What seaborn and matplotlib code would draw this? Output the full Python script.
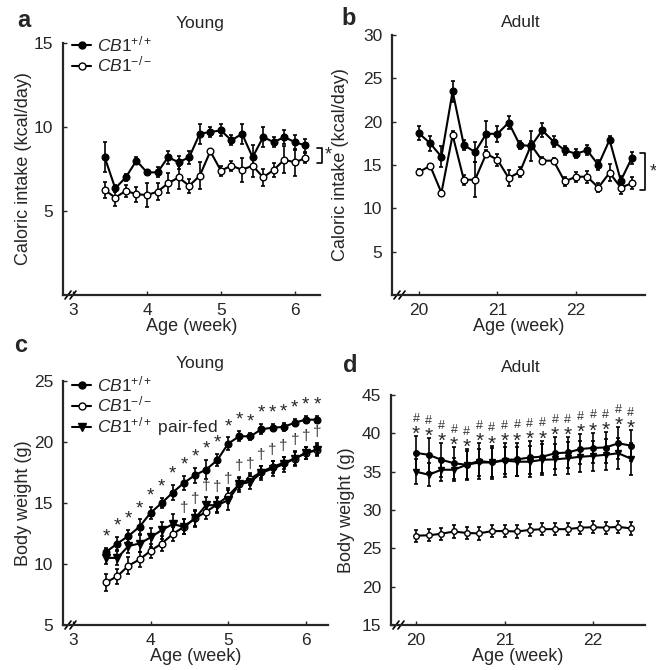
import numpy as np
import pandas as pd
import matplotlib
matplotlib.use('Agg')
import matplotlib.pyplot as plt
import seaborn as sns
from matplotlib.lines import Line2D

sns.set_style('ticks')
plt.rcParams['font.family'] = ['Liberation Sans', 'DejaVu Sans']
plt.rcParams['mathtext.fontset'] = 'custom'
plt.rcParams['mathtext.rm'] = 'Liberation Sans'
plt.rcParams['mathtext.it'] = 'Liberation Sans:italic'
plt.rcParams['mathtext.bf'] = 'Liberation Sans:bold'

# ---------------- data ----------------
young_days = list(range(24, 44))          # days of age, panels a and c
adult_days_b = list(range(140, 160))      # panel b
adult_days_d = list(range(140, 158))      # panel d

# a: caloric intake, young
a_wt = [8.2, 6.35, 7.0, 8.0, 7.3, 7.3, 8.2, 7.9, 8.2, 9.6, 9.7, 9.8, 9.2, 9.6, 8.2, 9.4, 9.1, 9.4, 9.1, 8.9]
a_wt_err = [0.9, 0.2, 0.2, 0.2, 0.15, 0.3, 0.4, 0.4, 0.4, 0.6, 0.3, 0.35, 0.3, 0.6, 0.7, 0.6, 0.3, 0.4, 0.45, 0.4]
a_ko = [6.25, 5.8, 6.2, 6.0, 5.95, 6.15, 6.65, 7.0, 6.5, 7.1, 8.55, 7.4, 7.7, 7.45, 7.7, 7.0, 7.45, 8.05, 7.9, 8.15]
a_ko_err = [0.5, 0.5, 0.35, 0.45, 0.7, 0.5, 0.6, 0.7, 0.4, 0.8, 0.1, 0.3, 0.3, 0.7, 0.7, 0.5, 0.4, 0.8, 0.8, 0.3]

# b: caloric intake, adult
b_wt = [18.65, 17.5, 15.95, 23.5, 17.3, 16.5, 18.6, 18.6, 19.9, 17.3, 17.2, 19.0, 17.7, 16.7, 16.3, 16.7, 15.0, 17.9, 13.2, 15.85]
b_wt_err = [0.8, 0.9, 1.2, 1.2, 0.6, 1.1, 1.5, 0.9, 0.8, 0.5, 1.7, 0.8, 0.6, 0.5, 0.5, 0.6, 0.6, 0.4, 0.5, 0.7]
b_ko = [14.2, 14.9, 11.8, 18.45, 13.3, 13.3, 16.3, 15.6, 13.5, 14.2, 17.3, 15.5, 15.5, 13.1, 13.65, 13.65, 12.4, 14.1, 12.4, 12.9]
b_ko_err = [0.3, 0.2, 0.2, 0.5, 0.6, 2.0, 0.4, 0.7, 0.9, 0.6, 0.5, 0.4, 0.3, 0.5, 0.6, 0.7, 0.5, 1.0, 0.7, 0.7]

# c: body weight, young
c_wt = [11.0, 11.68, 12.3, 13.05, 14.2, 15.0, 15.86, 16.65, 17.28, 17.74, 18.5, 19.87, 20.47, 20.47, 21.04, 21.18, 21.23, 21.59, 21.83, 21.83]
c_wt_err = [0.3, 0.5, 0.5, 0.6, 0.5, 0.4, 0.6, 0.6, 0.6, 0.8, 0.5, 0.5, 0.4, 0.3, 0.4, 0.3, 0.3, 0.3, 0.3, 0.3]
c_ko = [8.5, 9.0, 9.86, 10.37, 11.08, 11.68, 12.45, 13.05, 13.73, 14.28, 14.88, 15.59, 16.54, 17.0, 17.55, 17.96, 18.29, 18.64, 19.1, 19.32]
c_ko_err = [0.7, 0.6, 0.7, 0.6, 0.6, 0.6, 0.6, 0.6, 0.6, 0.6, 0.6, 0.6, 0.5, 0.5, 0.5, 0.5, 0.5, 0.5, 0.5, 0.4]
c_pf = [10.5, 10.5, 11.47, 11.68, 12.18, 12.78, 13.27, 13.05, 13.73, 14.82, 14.82, 15.23, 16.54, 16.73, 17.47, 17.82, 18.18, 18.64, 19.1, 19.38]
c_pf_err = [0.5, 0.6, 0.6, 0.7, 0.8, 0.7, 0.8, 0.6, 0.7, 0.7, 0.6, 0.8, 0.6, 0.6, 0.6, 0.6, 0.6, 0.6, 0.5, 0.5]
c_star_idx = list(range(0, 20))      # * : CB1+/+ vs CB1-/-
c_dagger_idx = list(range(7, 20))    # dagger : pair-fed vs CB1-/-

# d: body weight, adult
d_wt = [37.45, 37.2, 36.55, 36.1, 35.9, 36.4, 36.2, 36.55, 36.6, 36.85, 36.95, 37.4, 37.5, 37.95, 38.1, 38.15, 38.7, 38.4]
d_wt_err = [2.2, 2.2, 2.2, 2.1, 2.0, 2.3, 2.2, 2.2, 2.2, 2.1, 2.1, 2.1, 2.0, 2.0, 2.0, 2.0, 2.1, 2.0]
d_pf = [35.0, 34.6, 35.25, 35.25, 35.9, 36.2, 36.2, 36.45, 36.3, 36.3, 36.55, 36.6, 36.75, 36.95, 37.05, 37.2, 37.4, 36.7]
d_pf_err = [1.6, 1.5, 1.5, 1.5, 1.8, 1.8, 1.9, 1.8, 1.9, 2.0, 2.0, 2.0, 2.1, 2.0, 2.0, 2.0, 2.0, 2.1]
d_ko = [26.65, 26.7, 26.9, 27.2, 27.0, 26.95, 27.25, 27.25, 27.2, 27.4, 27.5, 27.5, 27.5, 27.7, 27.75, 27.7, 27.8, 27.6]
d_ko_err = [0.8] * 18

# significance brackets (value range) for panels a and b
a_bracket = (7.86, 8.75)
b_bracket = (12.1, 16.4)

lab_wt = r'$\mathit{CB1^{+/+}}$'
lab_ko = r'$\mathit{CB1^{-/-}}$'
lab_pf = r'$\mathit{CB1^{+/+}}$ pair-fed'

W, H = 656, 670
fig = plt.figure(figsize=(W / 100, H / 100), dpi=100)


def px_axes(l, r, t, b):
    return fig.add_axes([l / W, 1 - b / H, (r - l) / W, (b - t) / H])


def series(ax, days, vals, errs, marker, filled, ms, label):
    x = np.array(days) / 7.0
    df = pd.DataFrame({'week': x, 'value': vals})
    ax.errorbar(x, vals, yerr=errs, fmt='none', ecolor='k', elinewidth=1.2,
                capsize=1.6, capthick=1.2, zorder=2)
    sns.lineplot(data=df, x='week', y='value', ax=ax, color='k', lw=1.5,
                 marker=marker, markersize=ms,
                 markerfacecolor='k' if filled else 'white',
                 markeredgecolor='k', markeredgewidth=1.0, zorder=3,
                 errorbar=None, label=label, legend=False)


def style(ax, xlim, ylim, xticks, yticks, ylabel, ylabelpad):
    ax.set_xlim(xlim)
    ax.set_ylim(ylim)
    ax.set_xticks(xticks)
    ax.set_yticks(yticks)
    for s in ['top', 'right']:
        ax.spines[s].set_visible(False)
    for s in ['left', 'bottom']:
        ax.spines[s].set_linewidth(1.6)
    ax.tick_params(direction='in', length=3, width=1, labelsize=12.5, pad=6)
    ax.tick_params(axis='y', pad=7)
    ax.set_xlabel('Age (week)', fontsize=13, labelpad=0)
    ax.set_ylabel(ylabel, fontsize=13, labelpad=ylabelpad)
    # axis break marks
    pos = ax.get_position()
    wpx, hpx = pos.width * W, pos.height * H
    for off in (0, 5):
        ax.plot([(2 + off) / wpx, (8 + off) / wpx], [-4 / hpx, 4 / hpx],
                transform=ax.transAxes, color='k', lw=1.2, clip_on=False)


def legend(ax, handles, labels, x, y):
    ax.legend(handles, labels, loc='upper left', bbox_to_anchor=(x / W, 1 - y / H),
              bbox_transform=fig.transFigure, frameon=False, borderpad=0,
              borderaxespad=0, handlelength=1.1, handletextpad=0.35,
              labelspacing=0.05, fontsize=12.5)


def h_wt():
    return Line2D([0], [0], color='k', lw=1.5, marker='o', ms=5, mfc='k', mec='k')


def h_ko():
    return Line2D([0], [0], color='k', lw=1.5, marker='o', ms=5, mfc='white', mec='k', mew=1.0)


def h_pf():
    return Line2D([0], [0], color='k', lw=1.5, marker='v', ms=5.5, mfc='k', mec='k')


def bracket(ax, xwk, lo, hi, star_dx):
    ax.plot([xwk - 0.07, xwk, xwk, xwk - 0.07], [hi, hi, lo, lo], color='k', lw=1.2, clip_on=False)
    ax.text(xwk + star_dx, (lo + hi) / 2, '*', fontsize=13, ha='center', va='center', clip_on=False)


# ---------------- panel a ----------------
ax = px_axes(63, 320, 43, 295)
series(ax, young_days, a_ko, a_ko_err, 'o', False, 4.8, 'ko')
series(ax, young_days, a_wt, a_wt_err, 'o', True, 4.8, 'wt')
style(ax, (2.865, 6.34), (0, 15), [3, 4, 5, 6], [5, 10, 15], 'Caloric intake (kcal/day)', 1)
legend(ax, [h_wt(), h_ko()], [lab_wt, lab_ko], 72, 34)
bracket(ax, 6.365, a_bracket[0], a_bracket[1], 0.09)

# ---------------- panel b ----------------
ax = px_axes(392, 645, 35, 295)
series(ax, adult_days_b, b_ko, b_ko_err, 'o', False, 4.8, 'ko')
series(ax, adult_days_b, b_wt, b_wt_err, 'o', True, 4.8, 'wt')
style(ax, (19.656, 22.88), (0, 30), [20, 21, 22], [5, 10, 15, 20, 25, 30], 'Caloric intake (kcal/day)', 10)
bracket(ax, 22.88, b_bracket[0], b_bracket[1], 0.11)

# ---------------- panel c ----------------
ax = px_axes(63, 328, 381, 625)
series(ax, young_days, c_ko, c_ko_err, 'o', False, 4.8, 'ko')
series(ax, young_days, c_pf, c_pf_err, 'v', True, 5.2, 'pf')
series(ax, young_days, c_wt, c_wt_err, 'o', True, 4.8, 'wt')
style(ax, (2.871, 6.286), (5, 25), [3, 4, 5, 6], [5, 10, 15, 20, 25], 'Body weight (g)', 1)
legend(ax, [h_wt(), h_ko(), h_pf()], [lab_wt, lab_ko, lab_pf], 72, 374)
for i in c_star_idx:
    ax.text(young_days[i] / 7.0, c_wt[i] + c_wt_err[i] + 0.9, '*', fontsize=13.5,
            ha='center', va='center')
for i in c_dagger_idx:
    ax.text(young_days[i] / 7.0, c_pf[i] + c_pf_err[i] + 0.9, '\u2020', fontsize=11,
            ha='center', va='center', color='#333333')

# ---------------- panel d ----------------
ax = px_axes(391, 645, 395, 625)
series(ax, adult_days_d, d_ko, d_ko_err, 'o', False, 4.0, 'ko')
series(ax, adult_days_d, d_pf, d_pf_err, 'v', True, 4.2, 'pf')
series(ax, adult_days_d, d_wt, d_wt_err, 'o', True, 4.0, 'wt')
style(ax, (19.717, 22.588), (15, 45), [20, 21, 22], [15, 20, 25, 30, 35, 40, 45], 'Body weight (g)', 5)
for i in range(len(adult_days_d)):
    top = max(d_wt[i] + d_wt_err[i], d_pf[i] + d_pf_err[i])
    ax.text(adult_days_d[i] / 7.0, top + 1.45, '*', fontsize=15, ha='center', va='top')
    ax.text(adult_days_d[i] / 7.0, top + 1.45, '#', fontsize=9, ha='center', va='bottom', color='#333333')

# ---------------- titles and panel letters ----------------
for (x, y, s) in [(200, 28, 'Young'), (521, 27, 'Adult'), (200, 368, 'Young'), (521, 372, 'Adult')]:
    fig.text(x / W, 1 - y / H, s, fontsize=12.5, ha='center', va='baseline')
for (x, y, s) in [(24, 27, 'a'), (349, 25, 'b'), (21, 352, 'c'), (350, 372, 'd')]:
    fig.text(x / W, 1 - y / H, s, fontsize=17, fontweight='bold', ha='center', va='baseline')

fig.savefig('out.png', dpi=100)
